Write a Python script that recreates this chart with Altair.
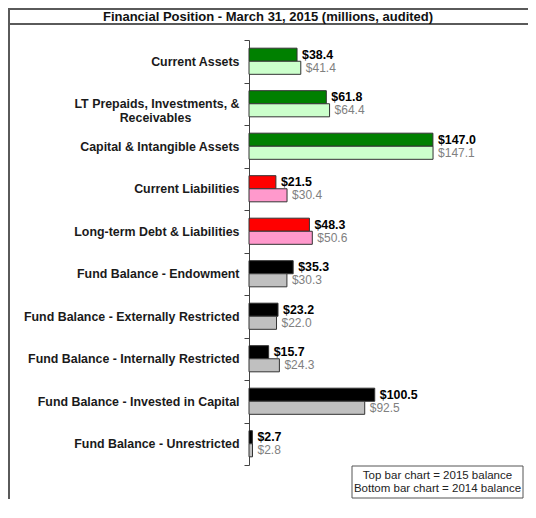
import altair as alt
import pandas as pd

CATEGORIES = [
    "Current Assets",
    "LT Prepaids, Investments, &\nReceivables",
    "Capital & Intangible Assets",
    "Current Liabilities",
    "Long-term Debt & Liabilities",
    "Fund Balance - Endowment",
    "Fund Balance - Externally Restricted",
    "Fund Balance - Internally Restricted",
    "Fund Balance - Invested in Capital",
    "Fund Balance - Unrestricted",
]
V2015 = [38.4, 61.8, 147.0, 21.5, 48.3, 35.3, 23.2, 15.7, 100.5, 2.7]
V2014 = [41.4, 64.4, 147.1, 30.4, 50.6, 30.3, 22.0, 24.3, 92.5, 2.8]
GROUPS = ["asset"] * 3 + ["liability"] * 2 + ["fund"] * 5
YEARS = ["2015", "2014"]
COLORS = {
    "2015": {"asset": "#008000", "liability": "#ff0000", "fund": "#000000"},
    "2014": {"asset": "#ccffcc", "liability": "#ff99cc", "fund": "#c0c0c0"},
}
TITLE = "Financial Position - March 31, 2015 (millions, audited)"
NOTE = ["Top bar chart = 2015 balance", "Bottom bar chart = 2014 balance"]

FONT = "Liberation Sans"
W, H = 279, 425

rows = []
for cat, g, a, b in zip(CATEGORIES, GROUPS, V2015, V2014):
    rows.append({"category": cat, "year": "2015", "value": a, "color": COLORS["2015"][g]})
    rows.append({"category": cat, "year": "2014", "value": b, "color": COLORS["2014"][g]})
df = pd.DataFrame(rows)

# pad the second line so that it sits centred under the first (zero-width char stops trimming)
pad = "\u00a0" * 14 + "\u200b"
label_expr = (
    "indexof(datum.label, '\\n') >= 0 ? "
    "[split(datum.label, '\\n')[0], split(datum.label, '\\n')[1] + '" + pad + "'] : datum.label"
)

x_enc = alt.X("value:Q", scale=alt.Scale(domain=[0, 223]), axis=None)
y_enc = alt.Y(
    "category:N",
    sort=CATEGORIES,
    scale=alt.Scale(paddingInner=0, paddingOuter=0),
    axis=alt.Axis(
        title=None,
        labelExpr=label_expr,
        labelFont=FONT,
        labelFontWeight="bold",
        labelFontSize=12.4,
        labelColor="#1a1a1a",
        labelLimit=400,
        labelPadding=5,
        labelLineHeight=14,
        tickBand="extent",
        tickSize=5,
        tickColor="#444444",
        domainColor="#444444",
    ),
)
yoff = alt.YOffset("year:N", sort=YEARS, scale=alt.Scale(paddingInner=0, paddingOuter=0.625))

base = alt.Chart(df)
bars = base.mark_bar(stroke="#333333", strokeWidth=1).encode(
    x=x_enc, y=y_enc, yOffset=yoff, color=alt.Color("color:N", scale=None)
)
lab15 = base.transform_filter(alt.datum.year == "2015").mark_text(
    align="left", baseline="middle", dx=5, font=FONT, fontSize=12.4, fontWeight="bold", color="#000000"
).encode(x=x_enc, y=y_enc, yOffset=yoff, text=alt.Text("value:Q", format="$.1f"))
lab14 = base.transform_filter(alt.datum.year == "2014").mark_text(
    align="left", baseline="middle", dx=5, font=FONT, fontSize=12, color="#808080"
).encode(x=x_enc, y=y_enc, yOffset=yoff, text=alt.Text("value:Q", format="$.1f"))

one = pd.DataFrame({"k": [0]})
frame_color = "#5a5a5a"
top_line = alt.Chart(one).mark_rule(color=frame_color, strokeWidth=2).encode(
    x=alt.value(-240), x2=alt.value(W), y=alt.value(-31)
)
title_line = alt.Chart(one).mark_rule(color=frame_color, strokeWidth=2).encode(
    x=alt.value(-240), x2=alt.value(W), y=alt.value(-16)
)
left_line = alt.Chart(one).mark_rule(color=frame_color, strokeWidth=2).encode(
    x=alt.value(-240), y=alt.value(-32), y2=alt.value(H + 34)
)
title = alt.Chart(pd.DataFrame({"t": [TITLE]})).mark_text(
    font=FONT, fontSize=13, fontWeight="bold", color="#111111", align="center", baseline="middle"
).encode(x=alt.value(19), y=alt.value(-23.5), text="t:N")

note_box = alt.Chart(one).mark_rect(fill="white", stroke="#555555", strokeWidth=1).encode(
    x=alt.value(103), x2=alt.value(274), y=alt.value(426), y2=alt.value(458)
)
note_text = alt.Chart(pd.DataFrame({"t": ["\n".join(NOTE)]})).mark_text(
    font=FONT, fontSize=11.5, color="#222222", align="center", baseline="middle",
    lineBreak="\n", lineHeight=12.5
).encode(x=alt.value(188.5), y=alt.value(436), text="t:N")

chart = alt.layer(
    bars, lab15, lab14, top_line, title_line, left_line, title, note_box, note_text
).properties(
    width=W,
    height=H,
    padding={"left": 241, "top": 32, "right": 0, "bottom": 38},
    autosize=alt.AutoSizeParams(type="none"),
).configure_view(stroke=None)

chart.save("out.html", embed_options={"renderer": "svg", "actions": False})
